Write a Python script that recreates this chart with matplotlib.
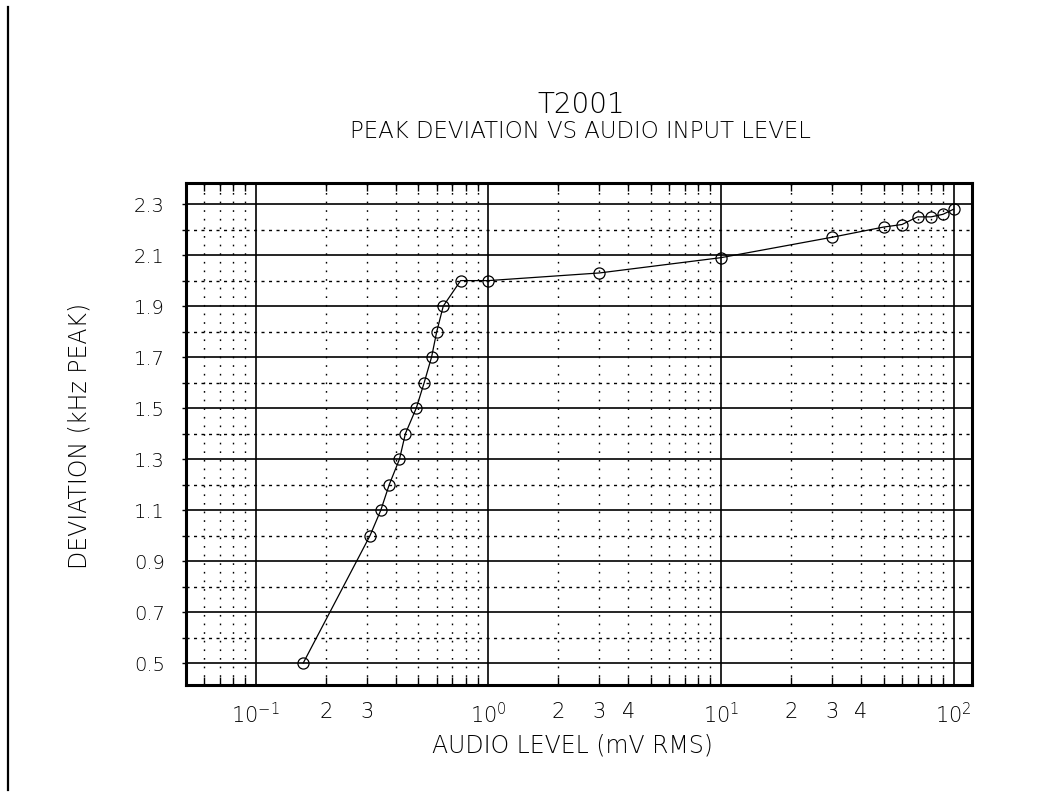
import matplotlib
matplotlib.use('Agg')
import matplotlib.pyplot as plt
from matplotlib.ticker import FixedLocator, FixedFormatter, NullFormatter
from matplotlib.lines import Line2D

# data
audio_mv = [0.16, 0.31, 0.345, 0.375, 0.415, 0.44, 0.49, 0.53, 0.57, 0.60, 0.64,
            0.76, 1.0, 3.0, 10, 30, 50, 60, 70, 80, 90, 100]
deviation = [0.5, 1.0, 1.1, 1.2, 1.3, 1.4, 1.5, 1.6, 1.7, 1.8, 1.9,
             2.0, 2.0, 2.03, 2.09, 2.17, 2.21, 2.22, 2.25, 2.25, 2.26, 2.28]

x_major = [0.1, 1, 10, 100]
x_major_labels = [r'$10^{-1}$', r'$10^{0}$', r'$10^{1}$', r'$10^{2}$']
x_minor = [0.06, 0.07, 0.08, 0.09] + [m * d for d in (0.1, 1, 10) for m in range(2, 10)]
x_minor_labels = {0.2: '2', 0.3: '3', 2: '2', 3: '3', 4: '4', 20: '2', 30: '3', 40: '4'}
y_major = [0.5, 0.7, 0.9, 1.1, 1.3, 1.5, 1.7, 1.9, 2.1, 2.3]
y_minor = [0.6, 0.8, 1.0, 1.2, 1.4, 1.6, 1.8, 2.0, 2.2]

plt.rcParams['font.family'] = ['DejaVu Sans']
plt.rcParams['font.weight'] = 'light'
plt.rcParams['mathtext.fontset'] = 'custom'
plt.rcParams['mathtext.rm'] = 'DejaVu Sans:light'
plt.rcParams['mathtext.it'] = 'DejaVu Sans:light'
plt.rcParams['mathtext.default'] = 'rm'

fig = plt.figure(figsize=(10.5, 7.96), dpi=100)
ax = fig.add_axes([185.7 / 1050, 1 - 685 / 796, (972 - 185.7) / 1050, (685 - 182.7) / 796])

ax.set_xscale('log')
ax.set_xlim(0.05, 120)
ax.set_ylim(0.414, 2.384)

# grid
for v in x_major:
    ax.axvline(v, color='black', lw=1.2, zorder=1)
for v in x_minor:
    ax.axvline(v, color='black', lw=1.0, ls=(0, (1.2, 5)), zorder=1)
for v in y_major:
    ax.axhline(v, color='black', lw=1.2, zorder=1)
for v in y_minor:
    ax.axhline(v, color='black', lw=1.0, ls=(0, (2.2, 3.2)), zorder=1)

ax.plot(audio_mv, deviation, color='black', lw=0.9, marker='o', ms=8,
        mfc='none', mec='black', mew=0.9, zorder=3)

ax.xaxis.set_major_locator(FixedLocator(x_major))
ax.xaxis.set_major_formatter(FixedFormatter(x_major_labels))
ax.xaxis.set_minor_locator(FixedLocator(x_minor))
ax.xaxis.set_minor_formatter(FixedFormatter([x_minor_labels.get(round(v, 3), '') for v in x_minor]))
ax.tick_params(axis='x', which='both', direction='in', top=True, bottom=True,
               length=6, width=1.0, labelsize=15, pad=12, colors='black')
ax.tick_params(axis='x', which='major', length=0)

ax.yaxis.set_major_locator(FixedLocator(y_major))
ax.yaxis.set_major_formatter(FixedFormatter(['%.1f' % v for v in y_major]))
ax.yaxis.set_minor_locator(FixedLocator(y_minor))
ax.yaxis.set_minor_formatter(NullFormatter())
ax.tick_params(axis='y', which='both', direction='out', length=3, width=1.0,
               labelsize=14, pad=12, colors='black')

for s in ax.spines.values():
    s.set_linewidth(2.2)

fig.text(581 / 1050, 1 - 113 / 796, 'T2001', ha='center', va='baseline', fontsize=20)
fig.text(580 / 1050, 1 - 138 / 796, 'PEAK DEVIATION VS AUDIO INPUT LEVEL',
         ha='center', va='baseline', fontsize=16.5)
fig.text(572 / 1050, 1 - 746 / 796, 'AUDIO LEVEL (mV RMS)', ha='center', va='center', fontsize=17)
fig.text(80 / 1050, 1 - 436 / 796, 'DEVIATION (kHz PEAK)', ha='center', va='center',
         rotation=90, fontsize=17)

fig.add_artist(Line2D([8 / 1050, 8 / 1050], [1 - 7 / 796, 1 - 790 / 796], color='black', lw=1.6))

fig.savefig('out.png', dpi=100, facecolor='white')
